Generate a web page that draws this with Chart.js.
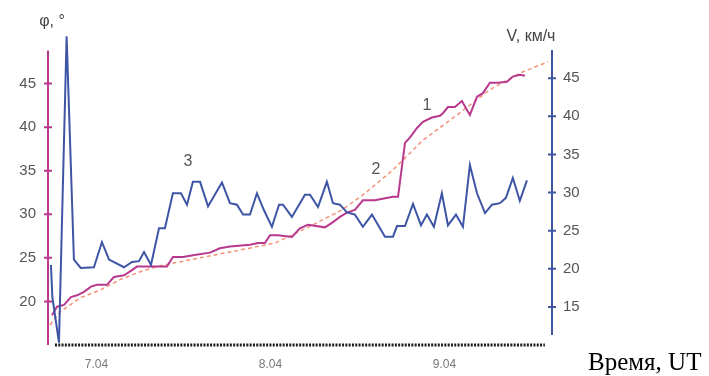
<!DOCTYPE html>
<html>
<head>
<meta charset="utf-8">
<script src="https://cdn.jsdelivr.net/npm/chart.js@4.4.1/dist/chart.umd.min.js"></script>
<style>
  body { margin: 0; background: #fff; }
  #wrap { width: 709px; height: 376px; position: relative; }
</style>
</head>
<body>
<div id="wrap"><canvas id="chart"></canvas></div>
<script>
// time axis in days (7 = 7.04, 8 = 8.04, 9 = 9.04)
const dayTicks = [7, 8, 9];
const dayLabels = ["7.04", "8.04", "9.04"];
const leftTicks = [20, 25, 30, 35, 40, 45];
const rightTicks = [15, 20, 25, 30, 35, 40, 45];

// 1 - phi, degrees (left axis)
const phiT = [6.744, 6.773, 6.813, 6.853, 6.888, 6.928, 6.968, 7.003, 7.060, 7.100, 7.158, 7.204, 7.232, 7.370,
  7.405, 7.439, 7.497, 7.554, 7.652, 7.709, 7.767, 7.882, 7.928, 7.968, 7.997, 8.043, 8.123, 8.169, 8.215, 8.313,
  8.359, 8.399, 8.439, 8.485, 8.531, 8.600, 8.704, 8.733, 8.773, 8.801, 8.842, 8.876, 8.928, 8.974, 8.991, 9.020,
  9.060, 9.100, 9.146, 9.187, 9.221, 9.261, 9.307, 9.359, 9.393, 9.433, 9.462];
const phiV = [18.4, 19.4, 19.6, 20.5, 20.7, 21.1, 21.7, 21.9, 21.9, 22.8, 23.0, 23.6, 24.0, 24.0,
  24.0, 25.1, 25.1, 25.3, 25.6, 26.1, 26.3, 26.5, 26.7, 26.7, 27.6, 27.6, 27.4, 28.4, 28.8, 28.5,
  29.1, 29.7, 30.2, 30.5, 31.6, 31.6, 32.0, 32.0, 38.2, 38.8, 39.9, 40.6, 41.1, 41.3, 41.6, 42.3,
  42.3, 43.0, 41.4, 43.5, 43.9, 45.1, 45.1, 45.2, 45.8, 46.0, 45.9];

// 2 - fitted curve (left axis)
const fitT = [6.732, 6.790, 6.905, 7.020, 7.135, 7.250, 7.365, 7.595, 7.825, 8.026, 8.215, 8.411, 8.543, 8.704,
  8.876, 9.072, 9.261, 9.433, 9.595];
const fitV = [17.3, 18.8, 20.4, 21.3, 22.5, 23.4, 24.1, 25.0, 25.9, 26.7, 28.5, 30.5, 32.4, 35.1,
  38.5, 41.4, 44.3, 46.2, 47.5];

// 3 - V, km/h (right axis)
const speedT = [6.738, 6.746, 6.784, 6.828, 6.870, 6.909, 6.985, 7.031, 7.072, 7.158, 7.204, 7.244, 7.273, 7.313,
  7.359, 7.393, 7.439, 7.485, 7.520, 7.554, 7.595, 7.641, 7.721, 7.767, 7.807, 7.842, 7.882, 7.922, 7.962, 8.008,
  8.049, 8.072, 8.123, 8.198, 8.227, 8.273, 8.324, 8.359, 8.399, 8.439, 8.485, 8.531, 8.583, 8.658, 8.704, 8.727,
  8.773, 8.819, 8.865, 8.899, 8.939, 8.985, 9.020, 9.066, 9.106, 9.146, 9.187, 9.233, 9.273, 9.319, 9.353, 9.393,
  9.433, 9.474];
const speedV = [20.5, 16.3, 10.3, 50.5, 21.2, 20.1, 20.2, 23.5, 21.2, 20.2, 20.9, 21.0, 22.2, 20.5,
  25.3, 25.3, 29.9, 29.9, 28.4, 31.4, 31.4, 28.2, 31.3, 28.6, 28.4, 27.1, 27.1, 29.9, 27.7, 25.5,
  28.4, 28.4, 26.8, 29.7, 29.7, 28.1, 31.4, 28.6, 28.4, 27.4, 27.1, 25.5, 27.1, 24.2, 24.2, 25.6,
  25.6, 28.5, 25.7, 27.1, 25.5, 29.9, 25.7, 27.1, 25.5, 33.6, 29.9, 27.3, 28.4, 28.6, 29.3, 31.9,
  28.9, 31.6];

// curve numbers [label, day, phi]
const curveNames = [["1", 8.899, 42.5], ["2", 8.606, 35.1], ["3", 7.526, 36.1]];

const MAGENTA = "#b8388d";
const BLUE = "#3e55a5";
const SALMON = "#f4937a";

function pts(t, v) {
  return t.map((x, i) => ({ x: x, y: v[i] }));
}

const decor = {
  id: "decor",
  afterDraw(chart) {
    const ctx = chart.ctx;
    const x = chart.scales.x, yl = chart.scales.y, yr = chart.scales.y2;
    const area = chart.chartArea;
    ctx.save();
    // left axis
    ctx.strokeStyle = MAGENTA;
    ctx.lineWidth = 2;
    ctx.beginPath();
    ctx.moveTo(area.left, yl.getPixelForValue(48.8));
    ctx.lineTo(area.left, yl.getPixelForValue(15));
    leftTicks.forEach(v => {
      const p = yl.getPixelForValue(v);
      ctx.moveTo(area.left - 4, p);
      ctx.lineTo(area.left + 4, p);
    });
    ctx.stroke();
    // right axis
    ctx.strokeStyle = BLUE;
    ctx.beginPath();
    ctx.moveTo(area.right, yr.getPixelForValue(48.7));
    ctx.lineTo(area.right, yr.getPixelForValue(11.3));
    rightTicks.forEach(v => {
      const p = yr.getPixelForValue(v);
      ctx.moveTo(area.right - 4, p);
      ctx.lineTo(area.right + 4, p);
    });
    ctx.stroke();
    // dotted time axis
    ctx.strokeStyle = "#1a1a1a";
    ctx.lineWidth = 3;
    ctx.setLineDash([2, 1.3]);
    ctx.beginPath();
    ctx.moveTo(x.getPixelForValue(6.761), area.bottom);
    ctx.lineTo(x.getPixelForValue(9.577), area.bottom);
    ctx.stroke();
    ctx.setLineDash([]);

    // texts
    ctx.fillStyle = "#444";
    ctx.textBaseline = "middle";
    ctx.textAlign = "center";
    ctx.font = "16px 'Liberation Sans', Arial, sans-serif";
    ctx.fillText("φ, °", area.left + 4, area.top - 18);
    ctx.fillText("V, км/ч", area.right - 21, area.top - 3);
    ctx.fillStyle = "#555";
    curveNames.forEach(c => {
      ctx.fillText(c[0], x.getPixelForValue(c[1]), yl.getPixelForValue(c[2]));
    });
    ctx.fillStyle = "#000";
    ctx.textAlign = "left";
    ctx.textBaseline = "alphabetic";
    ctx.font = "25px 'Liberation Serif', 'Times New Roman', serif";
    ctx.fillText("Время, UT", area.right + 36, area.bottom + 25);
    ctx.restore();
  }
};

new Chart(document.getElementById("chart"), {
  type: "line",
  data: {
    datasets: [
      { data: pts(speedT, speedV), yAxisID: "y2", borderColor: BLUE, borderWidth: 2, pointRadius: 0, clip: false },
      { data: pts(phiT, phiV), yAxisID: "y", borderColor: MAGENTA, borderWidth: 2, pointRadius: 0 },
      { data: pts(fitT, fitV), yAxisID: "y", borderColor: SALMON, borderWidth: 1.5, borderDash: [4, 3], pointRadius: 0, clip: false }
    ]
  },
  options: {
    responsive: true,
    maintainAspectRatio: false,
    animation: false,
    layout: { padding: { top: 40, right: 117, bottom: 0, left: 0 } },
    plugins: { legend: { display: false }, tooltip: { enabled: false } },
    scales: {
      x: {
        type: "linear",
        min: 6.721,
        max: 9.618,
        afterBuildTicks: s => { s.ticks = dayTicks.map(v => ({ value: v })); },
        afterFit: s => { s.height = 31; },
        grid: { display: false, drawTicks: false },
        border: { display: false },
        ticks: {
          padding: 12,
          color: "#777",
          font: { family: "'Liberation Sans', Arial, sans-serif", size: 12 },
          callback: v => dayLabels[dayTicks.indexOf(v)]
        }
      },
      y: {
        position: "left",
        min: 15,
        max: 50,
        afterBuildTicks: s => { s.ticks = leftTicks.map(v => ({ value: v })); },
        afterFit: s => { s.width = 48; },
        grid: { display: false, drawTicks: false },
        border: { display: false },
        ticks: { padding: 12, color: "#555", font: { family: "'Liberation Sans', Arial, sans-serif", size: 15 } }
      },
      y2: {
        position: "right",
        min: 10,
        max: 50,
        afterBuildTicks: s => { s.ticks = rightTicks.map(v => ({ value: v })); },
        afterFit: s => { s.width = 40; },
        grid: { display: false, drawTicks: false },
        border: { display: false },
        ticks: { padding: 11, color: "#555", font: { family: "'Liberation Sans', Arial, sans-serif", size: 15 } }
      }
    }
  },
  plugins: [decor]
});
</script>
</body>
</html>
